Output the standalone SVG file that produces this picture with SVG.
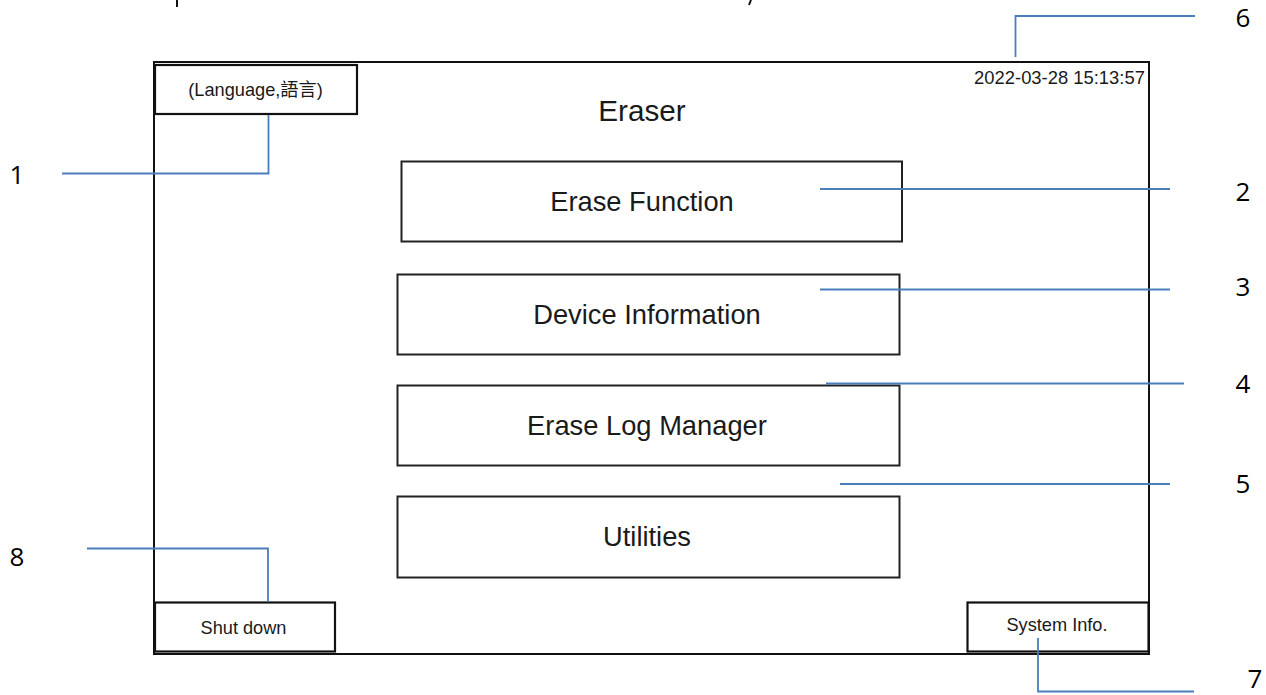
<svg xmlns="http://www.w3.org/2000/svg" width="1266" height="695" viewBox="0 0 1266 695">
<style>
text{font-family:"Liberation Sans","Noto Sans CJK TC",sans-serif;fill:#1a1a1a;text-anchor:middle}
.box{fill:#fff;stroke:#222;stroke-width:2}
.tab{fill:#fff;stroke:#111;stroke-width:2.2}
.frame{fill:#fff;stroke:#111;stroke-width:2}
.lead{fill:none;stroke:#4a7ebb;stroke-width:1.8}
.frag{fill:none;stroke:#111;stroke-width:2}
.num{font-family:"Open Sans","Liberation Sans",sans-serif;font-size:26px;fill:#000}
.big{font-size:27.3px}
.small{font-size:18.2px}
</style>
<rect width="1266" height="695" fill="#fff"/>
<g id="cropped-edge"><path class="frag" d="M177 0V7M751 0L749 5"/></g>
<g id="screen"><rect class="frame" x="154" y="62" width="995" height="592"/></g>
<g id="title"><text x="642" y="121" style="font-size:29.7px">Eraser</text></g>
<g id="clock"><text x="1059.500" y="83.500" style="font-size:18.4px">2022-03-28 15:13:57</text></g>
<g id="language"><rect class="tab" x="155" y="65" width="202" height="49"/><text class="small" x="255.500" y="96">(Language,語言)</text></g>
<g id="erase-function"><rect class="box" x="401.500" y="161.500" width="500.500" height="80"/><text class="big" x="642" y="211">Erase Function</text></g>
<g id="device-information"><rect class="box" x="397.500" y="274.500" width="502" height="80"/><text class="big" x="647" y="324">Device Information</text></g>
<g id="erase-log-manager"><rect class="box" x="397.500" y="385.500" width="502" height="80"/><text class="big" x="647" y="435">Erase Log Manager</text></g>
<g id="utilities"><rect class="box" x="397.500" y="496.500" width="502" height="81"/><text class="big" x="647" y="546">Utilities</text></g>
<g id="shut-down"><rect class="tab" x="155" y="602.500" width="180" height="49"/><text class="small" x="243.500" y="633.500">Shut down</text></g>
<g id="system-info"><rect class="tab" x="967.500" y="602.500" width="181" height="49"/><text class="small" x="1057" y="631">System Info.</text></g>
<g id="connectors">
<path class="lead" d="M62 173.500H268.500V115"/>
<path class="lead" d="M820 189H1170"/>
<path class="lead" d="M820 289.500H1170"/>
<path class="lead" d="M826 383.500H1184"/>
<path class="lead" d="M840 484H1170"/>
<path class="lead" d="M1015.500 57V16H1195"/>
<path class="lead" d="M1038 638V691.500H1194"/>
<path class="lead" d="M87 548.500H268V602"/>
</g>
<g id="labels">
<text class="num" x="17" y="184">1</text>
<text class="num" x="1243" y="201">2</text>
<text class="num" x="1243" y="296">3</text>
<text class="num" x="1243" y="393">4</text>
<text class="num" x="1243" y="493">5</text>
<text class="num" x="1243" y="27">6</text>
<text class="num" x="1255" y="688">7</text>
<text class="num" x="17" y="566">8</text>
</g>
</svg>
